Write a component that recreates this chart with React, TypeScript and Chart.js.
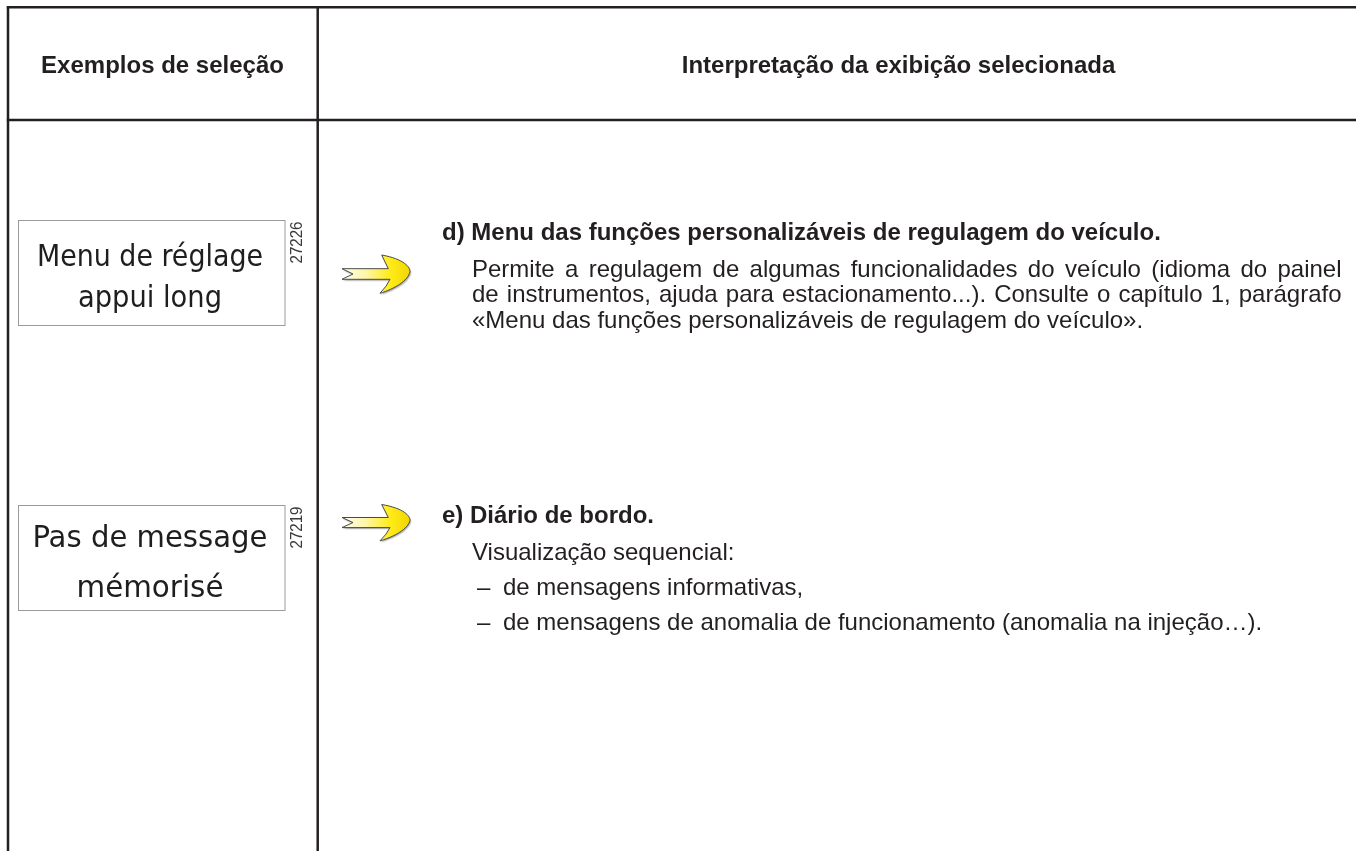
import React, { useEffect, useRef } from "react";
import { Chart, registerables } from "chart.js";

Chart.register(...registerables);

// ---- content ----
const headerTitles = ["Exemplos de seleção", "Interpretação da exibição selecionada"];
const displayLinesD = ["Menu de réglage", "appui long"];
const displayLinesE = ["Pas de message", "mémorisé"];
const displayCodes = ["27226", "27219"];
const sectionTitles = [
  "d) Menu das funções personalizáveis de regulagem do veículo.",
  "e) Diário de bordo.",
];
const paragraphD = [
  "Permite a regulagem de algumas funcionalidades do veículo (idioma do painel",
  "de instrumentos, ajuda para estacionamento...). Consulte o capítulo 1, parágrafo",
  "«Menu das funções personalizáveis de regulagem do veículo».",
];
const introE = "Visualização sequencial:";
const bulletsE = [
  "de mensagens informativas,",
  "de mensagens de anomalia de funcionamento (anomalia na injeção…).",
];

// ---- layout (page coordinates) ----
const W = 1356;
const H = 851;
const INK = "#231f20";
const SANS = "'Liberation Sans', Arial, Helvetica, sans-serif";
const LCD = "'Liberation Sans Narrow', 'DejaVu Sans Condensed', 'Roboto', sans-serif";

const docPlugin = {
  id: "docTable",
  beforeDraw(chart: any) {
    const { ctx } = chart;
    ctx.save();
    ctx.fillStyle = "#ffffff";
    ctx.fillRect(0, 0, chart.width, chart.height);
    ctx.restore();
  },
  afterDraw(chart: any) {
    const ctx: CanvasRenderingContext2D = chart.ctx;
    const sx = chart.scales.x;
    const sy = chart.scales.y;
    const X = (v: number) => sx.getPixelForValue(v);
    const Y = (v: number) => sy.getPixelForValue(v);

    ctx.save();
    // ---- table grid ----
    ctx.strokeStyle = INK;
    ctx.lineWidth = 2.5;
    ctx.lineCap = "butt";
    const line = (x1: number, y1: number, x2: number, y2: number) => {
      ctx.beginPath();
      ctx.moveTo(X(x1), Y(y1));
      ctx.lineTo(X(x2), Y(y2));
      ctx.stroke();
    };
    line(6.8, 7.3, W, 7.3);
    line(6.8, 120, W, 120);
    line(8, 6.2, 8, H);
    line(317.7, 6.2, 317.7, H);

    // ---- headers ----
    ctx.fillStyle = INK;
    ctx.font = `bold 24px ${SANS}`;
    ctx.textBaseline = "alphabetic";
    ctx.textAlign = "center";
    ctx.fillText(headerTitles[0], X(162.5), Y(73));
    ctx.fillText(headerTitles[1], X(898.5), Y(73));

    // ---- LCD boxes ----
    const drawLcd = (top: number, lines: string[], baselines: number[], widths: number[], code: string) => {
      ctx.save();
      ctx.strokeStyle = "#9a9a9a";
      ctx.lineWidth = 1;
      ctx.strokeRect(X(18.5), Y(top) + 0.5, X(285) - X(18.5), Y(top + 105) - Y(top));
      ctx.fillStyle = "#1e1e1e";
      ctx.font = `30px ${LCD}`;
      ctx.textAlign = "center";
      lines.forEach((t, i) => {
        const m = ctx.measureText(t).width;
        const k = widths[i] / m;
        ctx.save();
        ctx.translate(X(150), Y(baselines[i]));
        ctx.scale(k, 1);
        ctx.fillText(t, 0, 0);
        ctx.restore();
      });
      // rotated code number
      ctx.fillStyle = "#3a3a3a";
      ctx.font = `16px ${SANS}`;
      ctx.textAlign = "left";
      const cm = ctx.measureText(code).width;
      ctx.save();
      ctx.translate(X(302), Y(top + 43.5));
      ctx.rotate(-Math.PI / 2);
      ctx.scale(42 / cm, 1);
      ctx.fillText(code, 0, 0);
      ctx.restore();
      ctx.restore();
    };
    drawLcd(220, displayLinesD, [265.5, 306.5], [226, 144], displayCodes[0]);
    drawLcd(505, displayLinesE, [547, 597], [235, 147], displayCodes[1]);

    // ---- arrows ----
    const drawArrow = (ox: number, oy: number, s: number) => {
      const P = (dx: number, dy: number): [number, number] => [X(ox + dx), Y(oy + dy * s)];
      ctx.save();
      ctx.beginPath();
      let p = P(0, 13.7);
      ctx.moveTo(p[0], p[1]);
      p = P(46.3, 13.7); ctx.lineTo(p[0], p[1]);
      let c1 = P(44, 9), e = P(39.7, 0);
      ctx.quadraticCurveTo(c1[0], c1[1], e[0], e[1]);
      c1 = P(62, 4); let c2 = P(68, 12); e = P(68, 16.7);
      ctx.bezierCurveTo(c1[0], c1[1], c2[0], c2[1], e[0], e[1]);
      c1 = P(66, 26); c2 = P(52, 34); e = P(38, 38.3);
      ctx.bezierCurveTo(c1[0], c1[1], c2[0], c2[1], e[0], e[1]);
      c1 = P(45, 31); e = P(48, 24.3);
      ctx.quadraticCurveTo(c1[0], c1[1], e[0], e[1]);
      p = P(0, 24.3); ctx.lineTo(p[0], p[1]);
      p = P(11, 19); ctx.lineTo(p[0], p[1]);
      ctx.closePath();
      const g = ctx.createLinearGradient(X(ox), 0, X(ox + 68), 0);
      g.addColorStop(0, "#fffdf0");
      g.addColorStop(0.35, "#fff6a8");
      g.addColorStop(0.7, "#ffec1a");
      g.addColorStop(1, "#f2d600");
      ctx.shadowColor = "rgba(0,0,0,0.35)";
      ctx.shadowOffsetX = 1;
      ctx.shadowOffsetY = 1.5;
      ctx.shadowBlur = 1.5;
      ctx.fillStyle = g;
      ctx.fill();
      ctx.shadowColor = "transparent";
      ctx.strokeStyle = "#4a4a4a";
      ctx.lineWidth = 1;
      ctx.lineJoin = "round";
      ctx.stroke();
      ctx.restore();
    };
    drawArrow(342, 255, 1);
    drawArrow(342, 504.5, 0.95);

    // ---- right column text ----
    ctx.fillStyle = INK;
    ctx.textAlign = "left";
    ctx.font = `bold 24px ${SANS}`;
    ctx.fillText(sectionTitles[0], X(442), Y(240));
    ctx.fillText(sectionTitles[1], X(442), Y(523));

    ctx.font = `24px ${SANS}`;
    const justify = (t: string, x: number, y: number, right: number) => {
      const words = t.split(" ");
      const widths = words.map((w) => ctx.measureText(w).width);
      const sum = widths.reduce((a, b) => a + b, 0);
      const gap = (X(right) - X(x) - sum) / (words.length - 1);
      let cx = X(x);
      words.forEach((w, i) => {
        ctx.fillText(w, cx, Y(y));
        cx += widths[i] + gap;
      });
    };
    const pBase = [276.8, 302.2, 328.2];
    paragraphD.forEach((t, i) => {
      if (i < paragraphD.length - 1) justify(t, 472, pBase[i], 1341.5);
      else ctx.fillText(t, X(472), Y(pBase[i]));
    });

    ctx.fillText(introE, X(472), Y(560));
    const bBase = [595, 630];
    bulletsE.forEach((t, i) => {
      ctx.fillText("–", X(477), Y(bBase[i]));
      ctx.fillText(t, X(503), Y(bBase[i]));
    });

    ctx.restore();
  },
};

export default function App() {
  const ref = useRef<HTMLCanvasElement | null>(null);
  useEffect(() => {
    document.body.style.margin = "0";
    const canvas = ref.current;
    if (!canvas) return;
    const chart = new Chart(canvas, {
      type: "scatter",
      data: { datasets: [{ data: [] }] },
      options: {
        animation: false,
        responsive: false,
        maintainAspectRatio: false,
        devicePixelRatio: 1,
        layout: { padding: 0 },
        plugins: { legend: { display: false }, tooltip: { enabled: false } },
        scales: {
          x: { type: "linear", min: 0, max: W, display: false },
          y: { type: "linear", min: 0, max: H, reverse: true, display: false },
        },
      },
      plugins: [docPlugin],
    } as any);
    return () => chart.destroy();
  }, []);
  return (
    <canvas
      ref={ref}
      width={W}
      height={H}
      style={{ display: "block", width: W, height: H }}
    />
  );
}
